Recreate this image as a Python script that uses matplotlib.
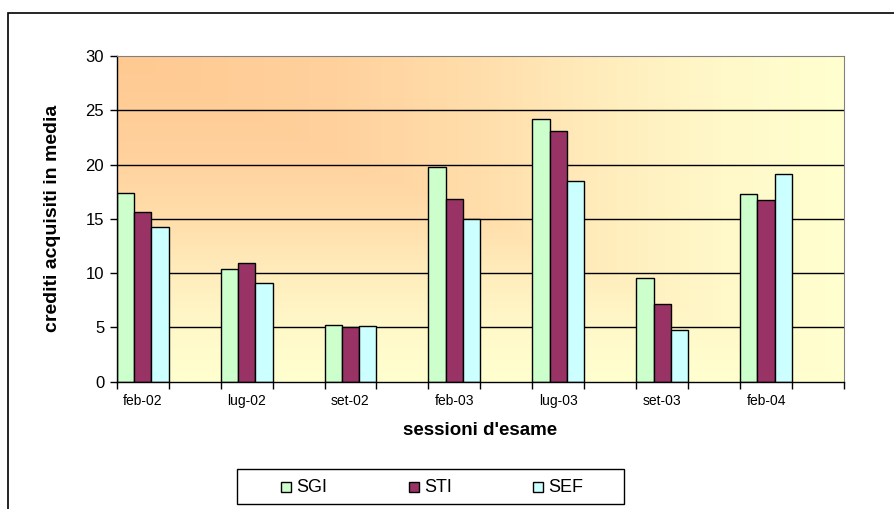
import numpy as np
import matplotlib
matplotlib.use('Agg')
import matplotlib.pyplot as plt
from matplotlib.colors import LinearSegmentedColormap
from matplotlib.patches import Rectangle

# dati
sessioni = ['feb-02', 'lug-02', 'set-02', 'feb-03', 'lug-03', 'set-03', 'feb-04']
sgi = [17.35, 10.4, 5.25, 19.8, 24.2, 9.55, 17.25]
sti = [15.6, 10.9, 5.0, 16.85, 23.05, 7.15, 16.7]
sef = [14.25, 9.05, 5.1, 14.95, 18.45, 4.8, 19.1]
serie = ['SGI', 'STI', 'SEF']
colori = ['#CCFFCC', '#993366', '#CCFFFF']

plt.rcParams['font.family'] = ['Liberation Sans', 'DejaVu Sans']

fig = plt.figure(figsize=(8.95, 5.09), dpi=100)
ax = fig.add_axes([116.7 / 895, 1 - 381.7 / 509, (844 - 116.7) / 895, (381.7 - 56) / 509])

x = np.arange(len(sessioni))
w = 1 / 6
xmin, xmax = -0.25, len(sessioni) - 0.25

# sfondo sfumato arancio -> giallo (dall'angolo in alto a sinistra)
gx, gy = np.meshgrid(np.linspace(0, 1, 400), np.linspace(0, 1, 300))
t = np.maximum(gx, gy)
cmap = LinearSegmentedColormap.from_list(
    'bg', [(0, '#FFC991'), (0.3, '#FFD19D'), (0.5, '#FFDEAB'), (0.7, '#FFEFBF'),
           (0.85, '#FFF9CA'), (1, '#FFFFCF')])
ax.imshow(t, cmap=cmap, aspect='auto', extent=(xmin, xmax, 0, 30), origin='upper', zorder=0)

for yv in [5, 10, 15, 20, 25]:
    ax.axhline(yv, color='black', lw=1, zorder=1)

for i, (vals, col) in enumerate(zip([sgi, sti, sef], colori)):
    ax.bar(x - 0.25 + w / 2 + i * w, vals, width=w, color=col, edgecolor='black',
           linewidth=1, zorder=2)

ax.set_xlim(xmin, xmax)
ax.set_ylim(0, 30)
ax.set_yticks(range(0, 31, 5))
ax.tick_params(axis='y', labelsize=12, length=5, width=1, direction='out', pad=4)

# etichette al centro, tacche tra i gruppi
ax.set_xticks(x)
ax.set_xticklabels(sessioni, fontsize=10)
ax.tick_params(axis='x', which='major', length=0, pad=9)
ax.set_xticks(np.arange(xmin, xmax + 0.01, 0.5), minor=True)
ax.tick_params(axis='x', which='minor', length=5, width=1, direction='out')

for s in ['top', 'right']:
    ax.spines[s].set_color('#808080')
for s in ['left', 'bottom']:
    ax.spines[s].set_color('black')
    ax.spines[s].set_linewidth(1)

ax.set_ylabel('crediti acquisiti in media', fontsize=14, fontweight='bold', labelpad=18)
ax.set_xlabel("sessioni d'esame", fontsize=13.5, fontweight='bold', labelpad=10)

# legenda
fig.add_artist(Rectangle((237 / 895, 1 - 504 / 509), 387 / 895, 35 / 509,
                         transform=fig.transFigure, fill=False, edgecolor='black', lw=1))
for nome, col, px in zip(serie, colori, [281, 409, 533]):
    fig.add_artist(Rectangle((px / 895, 1 - 492 / 509), 10 / 895, 10 / 509,
                             transform=fig.transFigure, facecolor=col,
                             edgecolor='black', lw=1))
    fig.text((px + 15) / 895, 1 - 487 / 509, nome, fontsize=13, va='center', ha='left')

# bordo del grafico
fig.add_artist(Rectangle((8 / 895, -0.2), 1.2, 1.2 - 13 / 509, transform=fig.transFigure,
                         fill=False, edgecolor='black', lw=1.2, clip_on=False))

fig.savefig('out.png', dpi=100)
